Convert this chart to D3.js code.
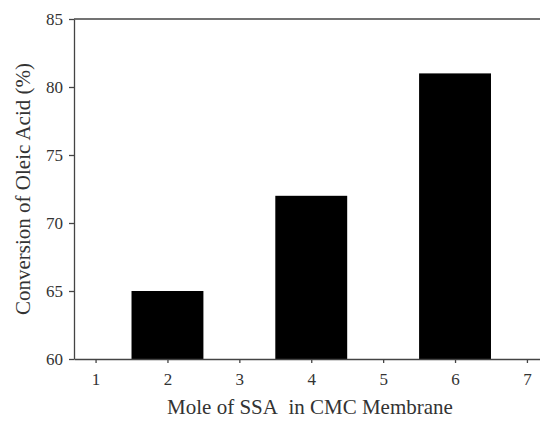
<!DOCTYPE html>
<html>
<head>
<meta charset="utf-8">
<script src="https://cdn.jsdelivr.net/npm/d3@7"></script>
<style>
  body { margin: 0; background: #fff; overflow: hidden; }
  text { font-family: 'Liberation Serif', 'Times New Roman', serif; fill: #333; }
</style>
</head>
<body>
<div id="svgContainer"></div>
<script>
const moles = [2, 4, 6]
const conversion = [65, 72, 81]
const xTicks = [1, 2, 3, 4, 5, 6, 7]
const yTicks = [60, 65, 70, 75, 80, 85]

const width = 540,
  height = 423

const svg = d3.select('#svgContainer')
              .append('svg')
              .attr('width', width)
              .attr('height', height)

// x range runs past the right edge, as in the original figure
const xScale = d3.scaleLinear()
                 .domain([0.7, 7.3])
                 .range([74, 548.5])

const yScale = d3.scaleLinear()
                 .domain([60, 85])
                 .range([359, 19])

const lineColor = '#444'

svg.selectAll('rect.bar')
   .data(moles)
   .enter()
   .append('rect')
   .attr('class', 'bar')
   .attr('x', (d) => xScale(d - 0.5))
   .attr('width', (d) => xScale(d + 0.5) - xScale(d - 0.5))
   .attr('y', (d, i) => yScale(conversion[i]))
   .attr('height', (d, i) => yScale(60) - yScale(conversion[i]))
   .style('fill', '#000')

// top frame line
svg.append('line')
   .attr('x1', xScale(0.7))
   .attr('x2', xScale(7.3))
   .attr('y1', yScale(85))
   .attr('y2', yScale(85))
   .style('stroke', lineColor)
   .style('stroke-width', 1.3)

const xAxis = svg.append('g')
                 .attr('transform', 'translate(0,' + yScale(60) + ')')
                 .call(d3.axisBottom(xScale).tickValues(xTicks).tickSize(4).tickPadding(10).tickSizeOuter(0).tickFormat(d3.format('d')))
                 .attr('font-size', 17)
                 .attr('font-family', "'Liberation Serif', serif")

const yAxis = svg.append('g')
                 .attr('transform', 'translate(' + xScale(0.7) + ',0)')
                 .call(d3.axisLeft(yScale).tickValues(yTicks).tickSize(5).tickPadding(6).tickSizeOuter(0))
                 .attr('font-size', 17)
                 .attr('font-family', "'Liberation Serif', serif")

svg.selectAll('.domain, .tick line')
   .style('stroke', lineColor)
   .style('stroke-width', 1.3)

svg.selectAll('.tick text')
   .style('fill', '#333')

svg.append('text')
   .attr('x', 310)
   .attr('y', 414)
   .attr('text-anchor', 'middle')
   .style('font-size', '21px')
   .text('Mole of SSA\u00a0 in CMC Membrane')

svg.append('text')
   .attr('transform', 'translate(30,' + 189 + ') rotate(-90)')
   .attr('text-anchor', 'middle')
   .style('font-size', '21px')
   .text('Conversion of Oleic Acid (%)')
</script>
</body>
</html>
